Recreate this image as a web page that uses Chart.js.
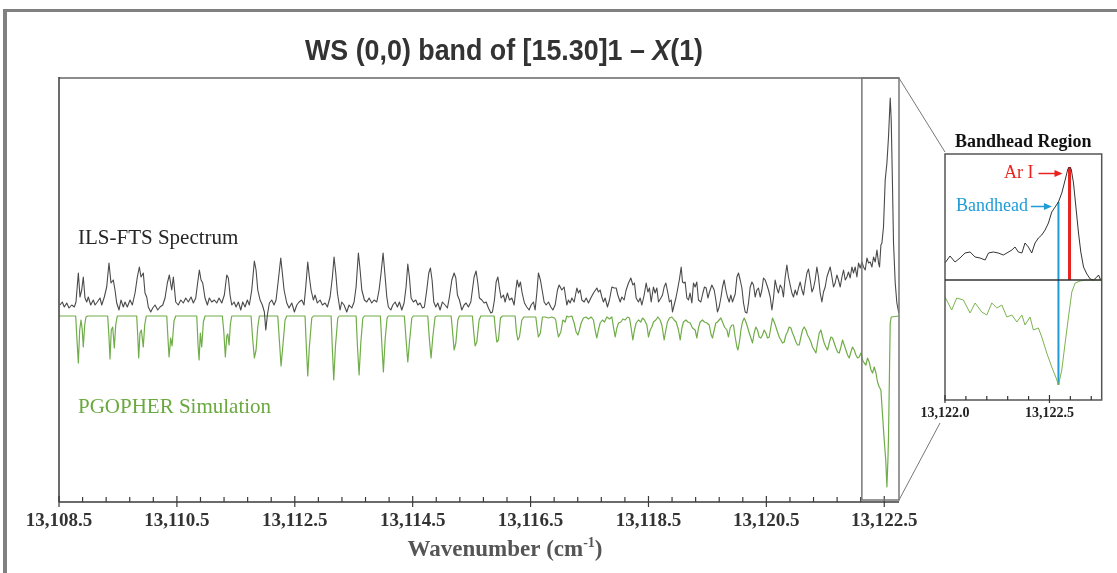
<!DOCTYPE html>
<html>
<head>
<meta charset="utf-8">
<title>WS (0,0) band</title>
<script src="https://cdn.jsdelivr.net/npm/chart.js@4/dist/chart.umd.min.js"></script>
<style>
  html, body { margin: 0; padding: 0; background: #fff; }
  #wrap { position: relative; width: 1117px; height: 573px; overflow: hidden; }
  #frame { position: absolute; left: 3px; top: 9px; width: 1130px; height: 580px;
           border-top: 3px solid #808080; border-left: 4px solid #808080; }
  #main { position: absolute; left: 0; top: 0; }
  #inset { position: absolute; left: 880px; top: 70px; }
</style>
</head>
<body>
<div id="wrap">
  <div id="frame"></div>
  <canvas id="main" width="1117" height="573"></canvas>
  <canvas id="inset" width="237" height="440"></canvas>
</div>
<script>
// ILS-FTS spectrum: wavenumber (cm-1) and intensity (arb. units)
const ftsWn = [
  13108.517, 13108.556, 13108.590, 13108.631, 13108.670, 13108.716, 13108.760, 13108.788, 13108.828, 13108.856,
  13108.885, 13108.912, 13108.941, 13108.970, 13108.997, 13109.038, 13109.082, 13109.111, 13109.150, 13109.196,
  13109.225, 13109.269, 13109.309, 13109.348, 13109.382, 13109.421, 13109.450, 13109.479, 13109.518, 13109.552,
  13109.591, 13109.620, 13109.659, 13109.705, 13109.744, 13109.790, 13109.829, 13109.863, 13109.891, 13109.930,
  13109.959, 13109.988, 13110.015, 13110.056, 13110.090, 13110.129, 13110.175, 13110.214, 13110.260, 13110.299,
  13110.338, 13110.372, 13110.412, 13110.440, 13110.480, 13110.524, 13110.565, 13110.609, 13110.650, 13110.694,
  13110.740, 13110.779, 13110.820, 13110.854, 13110.881, 13110.910, 13110.938, 13110.977, 13111.017, 13111.050,
  13111.091, 13111.135, 13111.176, 13111.215, 13111.261, 13111.305, 13111.346, 13111.373, 13111.402, 13111.431,
  13111.470, 13111.504, 13111.543, 13111.583, 13111.617, 13111.656, 13111.695, 13111.729, 13111.770, 13111.814,
  13111.843, 13111.872, 13111.911, 13111.950, 13111.984, 13112.008, 13112.035, 13112.069, 13112.109, 13112.148,
  13112.182, 13112.221, 13112.262, 13112.289, 13112.318, 13112.364, 13112.403, 13112.449, 13112.493, 13112.534,
  13112.573, 13112.618, 13112.657, 13112.686, 13112.720, 13112.747, 13112.776, 13112.815, 13112.844, 13112.883,
  13112.929, 13112.968, 13113.014, 13113.053, 13113.099, 13113.138, 13113.166, 13113.195, 13113.223, 13113.268,
  13113.297, 13113.336, 13113.382, 13113.421, 13113.467, 13113.506, 13113.540, 13113.579, 13113.608, 13113.637,
  13113.681, 13113.721, 13113.760, 13113.806, 13113.845, 13113.891, 13113.930, 13113.964, 13113.998, 13114.027,
  13114.061, 13114.088, 13114.129, 13114.163, 13114.202, 13114.241, 13114.275, 13114.315, 13114.354, 13114.388,
  13114.417, 13114.444, 13114.473, 13114.512, 13114.553, 13114.587, 13114.626, 13114.665, 13114.699, 13114.739,
  13114.773, 13114.801, 13114.829, 13114.858, 13114.892, 13114.926, 13114.965, 13115.004, 13115.050, 13115.089,
  13115.123, 13115.164, 13115.203, 13115.232, 13115.259, 13115.293, 13115.333, 13115.372, 13115.406, 13115.445,
  13115.486, 13115.513, 13115.542, 13115.576, 13115.605, 13115.632, 13115.673, 13115.712, 13115.746, 13115.785,
  13115.826, 13115.853, 13115.887, 13115.916, 13115.945, 13115.972, 13116.000, 13116.040, 13116.068, 13116.107,
  13116.141, 13116.182, 13116.221, 13116.250, 13116.272, 13116.301, 13116.328, 13116.357, 13116.396, 13116.436,
  13116.475, 13116.509, 13116.548, 13116.577, 13116.606, 13116.633, 13116.667, 13116.696, 13116.730, 13116.764,
  13116.803, 13116.844, 13116.878, 13116.917, 13116.956, 13116.985, 13117.030, 13117.069, 13117.115, 13117.142,
  13117.171, 13117.200, 13117.239, 13117.285, 13117.312, 13117.341, 13117.370, 13117.409, 13117.443, 13117.482,
  13117.522, 13117.567, 13117.624, 13117.651, 13117.680, 13117.709, 13117.736, 13117.765, 13117.804, 13117.838,
  13117.879, 13117.918, 13117.952, 13117.980, 13118.020, 13118.048, 13118.087, 13118.121, 13118.161, 13118.201,
  13118.235, 13118.262, 13118.291, 13118.330, 13118.359, 13118.388, 13118.427, 13118.461, 13118.490, 13118.517,
  13118.546, 13118.584, 13118.613, 13118.642, 13118.670, 13118.710, 13118.738, 13118.766, 13118.795, 13118.829,
  13118.856, 13118.885, 13118.907, 13118.936, 13118.965, 13118.992, 13119.026, 13119.055, 13119.077, 13119.100,
  13119.122, 13119.151, 13119.178, 13119.206, 13119.236, 13119.263, 13119.291, 13119.320, 13119.348, 13119.388,
  13119.423, 13119.450, 13119.479, 13119.508, 13119.535, 13119.575, 13119.615, 13119.643, 13119.670, 13119.699,
  13119.728, 13119.756, 13119.784, 13119.813, 13119.840, 13119.869, 13119.898, 13119.925, 13119.971, 13120.000,
  13120.027, 13120.056, 13120.085, 13120.112, 13120.141, 13120.170, 13120.197, 13120.226, 13120.255, 13120.282,
  13120.310, 13120.339, 13120.366, 13120.395, 13120.424, 13120.451, 13120.480, 13120.509, 13120.536, 13120.565,
  13120.594, 13120.621, 13120.649, 13120.678, 13120.705, 13120.734, 13120.763, 13120.790, 13120.819, 13120.848,
  13120.875, 13120.904, 13120.933, 13120.960, 13120.989, 13121.018, 13121.045, 13121.074, 13121.103, 13121.130,
  13121.159, 13121.188, 13121.215, 13121.244, 13121.273, 13121.300, 13121.328, 13121.357, 13121.384, 13121.413,
  13121.442, 13121.469, 13121.498, 13121.527, 13121.554, 13121.583, 13121.612, 13121.639, 13121.667, 13121.696,
  13121.723, 13121.753, 13121.782, 13121.809, 13121.838, 13121.866, 13121.893, 13121.922, 13121.951, 13121.978,
  13122.007, 13122.036, 13122.063, 13122.092, 13122.121, 13122.148, 13122.177, 13122.206, 13122.233, 13122.262,
  13122.291, 13122.318, 13122.347, 13122.376, 13122.403, 13122.420, 13122.443, 13122.460, 13122.487, 13122.516,
  13122.545, 13122.572, 13122.601, 13122.618, 13122.640, 13122.657, 13122.686, 13122.714, 13122.743, 13122.750,
];
const ftsInt = [
  11, 14, 9, 13, 8, 11, 9, 14, 43, 19,
  26, 39, 18, 14, 19, 11, 16, 11, 14, 18,
  11, 19, 29, 53, 33, 36, 26, 13, 6, 16,
  9, 14, 9, 16, 11, 23, 39, 49, 39, 43,
  23, 19, 9, 4, 8, 11, 6, 9, 11, 18,
  33, 41, 26, 39, 14, 11, 16, 13, 18, 14,
  19, 13, 18, 34, 46, 36, 33, 18, 11, 18,
  14, 16, 13, 18, 13, 21, 41, 38, 21, 11,
  14, 9, 14, 6, 14, 9, 16, 11, 26, 55,
  46, 26, 16, 11, 4, -14, 1, 13, 16, 11,
  16, 36, 58, 43, 26, 13, 8, 13, 4, 11,
  14, 16, 11, 29, 54, 39, 26, 16, 21, 13,
  16, 11, 13, 9, 19, 39, 59, 43, 23, 6,
  14, 11, 4, 11, 8, 14, 29, 63, 46, 26,
  16, 14, 18, 13, 16, 14, 26, 43, 63, 43,
  19, 9, 6, 11, 14, 9, 14, 6, 13, 29,
  52, 39, 18, 14, 16, 11, 13, 8, 9, 26,
  43, 48, 36, 14, 9, 13, 6, 14, 11, 8,
  19, 36, 43, 38, 21, 16, 6, 11, 13, 9,
  14, 26, 39, 45, 33, 18, 16, 13, 14, 8,
  3, 4, 16, 34, 39, 28, 18, 21, 14, 23,
  16, 18, 11, 26, 36, 29, 34, 23, 13, 9,
  6, 11, 14, 6, 23, 43, 36, 26, 14, 11,
  14, 9, 6, 11, 26, 31, 26, 29, 11, 16,
  13, 18, 14, 28, 23, 26, 16, 14, 18, 13,
  18, 23, 28, 24, 26, 19, 14, 18, 9, 16,
  29, 28, 28, 21, 14, 19, 16, 26, 33, 38,
  31, 33, 18, 14, 18, 11, 21, 33, 24, 28,
  14, 29, 23, 28, 14, 18, 21, 29, 33, 23,
  14, 16, 4, 11, 18, 26, 37, 49, 34, 33,
  34, 18, 16, 23, 13, 33, 29, 34, 16, 14,
  23, 29, 28, 18, 24, 31, 26, 16, 4, 9,
  18, 29, 36, 26, 19, 14, 21, 14, 22, 39,
  43, 36, 28, 13, 4, 3, 13, 29, 34, 31,
  19, 26, 28, 19, 26, 38, 36, 31, 26, 19,
  6, 18, 36, 28, 23, 31, 28, 19, 39, 51,
  39, 31, 23, 19, 26, 21, 28, 34, 26, 21,
  33, 43, 47, 36, 24, 28, 36, 49, 39, 23,
  14, 24, 29, 39, 44, 49, 39, 29, 33, 41,
  36, 29, 39, 46, 36, 39, 44, 38, 49, 43,
  49, 39, 53, 48, 54, 49, 46, 58, 53, 54,
  49, 59, 54, 66, 53, 49, 71, 73, 89, 136,
  153, 179, 218, 196, 129, 73, 33, 13, 4, 3,
];

// PGOPHER simulation, plotted downward
const simWn = [
  13108.500, 13108.783, 13108.805, 13108.828, 13108.851, 13108.873, 13108.895, 13108.912, 13108.936, 13108.958,
  13108.987, 13109.326, 13109.348, 13109.365, 13109.387, 13109.411, 13109.438, 13109.462, 13109.489, 13109.818,
  13109.835, 13109.852, 13109.874, 13109.897, 13109.930, 13109.954, 13109.981, 13110.328, 13110.350, 13110.367,
  13110.395, 13110.418, 13110.451, 13110.480, 13110.837, 13110.859, 13110.876, 13110.898, 13110.921, 13110.949,
  13110.977, 13111.271, 13111.295, 13111.322, 13111.346, 13111.363, 13111.385, 13111.407, 13111.431, 13111.758,
  13111.787, 13111.814, 13111.843, 13111.872, 13111.899, 13112.211, 13112.238, 13112.267, 13112.296, 13112.335,
  13112.364, 13112.674, 13112.696, 13112.720, 13112.747, 13112.788, 13112.815, 13113.116, 13113.138, 13113.161,
  13113.189, 13113.229, 13113.256, 13113.540, 13113.562, 13113.591, 13113.620, 13113.654, 13113.681, 13113.952,
  13113.976, 13114.003, 13114.032, 13114.066, 13114.088, 13114.359, 13114.388, 13114.417, 13114.444, 13114.485,
  13114.512, 13114.756, 13114.784, 13114.812, 13114.841, 13114.880, 13114.909, 13115.152, 13115.174, 13115.203,
  13115.232, 13115.266, 13115.293, 13115.513, 13115.537, 13115.559, 13115.588, 13115.627, 13115.656, 13115.882,
  13115.904, 13115.927, 13115.955, 13115.989, 13116.023, 13116.238, 13116.260, 13116.284, 13116.311, 13116.352,
  13116.386, 13116.425, 13116.589, 13116.611, 13116.633, 13116.667, 13116.701, 13116.747, 13116.803, 13116.861,
  13116.905, 13116.927, 13116.951, 13116.973, 13117.013, 13117.047, 13117.086, 13117.115, 13117.142, 13117.200,
  13117.239, 13117.273, 13117.302, 13117.329, 13117.358, 13117.397, 13117.438, 13117.482, 13117.528, 13117.567,
  13117.595, 13117.624, 13117.651, 13117.680, 13117.719, 13117.753, 13117.794, 13117.838, 13117.879, 13117.906,
  13117.935, 13117.964, 13117.991, 13118.032, 13118.065, 13118.105, 13118.144, 13118.178, 13118.206, 13118.235,
  13118.262, 13118.291, 13118.330, 13118.371, 13118.398, 13118.432, 13118.473, 13118.500, 13118.529, 13118.557,
  13118.585, 13118.625, 13118.659, 13118.698, 13118.727, 13118.766, 13118.795, 13118.822, 13118.856, 13118.897,
  13118.936, 13118.970, 13119.009, 13119.038, 13119.067, 13119.094, 13119.135, 13119.169, 13119.207, 13119.247,
  13119.292, 13119.321, 13119.348, 13119.377, 13119.416, 13119.450, 13119.491, 13119.530, 13119.564, 13119.586,
  13119.615, 13119.643, 13119.670, 13119.699, 13119.728, 13119.756, 13119.790, 13119.830, 13119.857, 13119.886,
  13119.915, 13119.942, 13119.971, 13120.000, 13120.018, 13120.048, 13120.068, 13120.095, 13120.124, 13120.153,
  13120.180, 13120.209, 13120.238, 13120.265, 13120.293, 13120.322, 13120.349, 13120.378, 13120.407, 13120.434,
  13120.463, 13120.492, 13120.519, 13120.548, 13120.577, 13120.604, 13120.633, 13120.662, 13120.689, 13120.718,
  13120.747, 13120.774, 13120.803, 13120.831, 13120.858, 13120.887, 13120.916, 13120.943, 13120.972, 13121.001,
  13121.028, 13121.057, 13121.086, 13121.113, 13121.142, 13121.171, 13121.198, 13121.227, 13121.256, 13121.283,
  13121.312, 13121.341, 13121.368, 13121.397, 13121.425, 13121.453, 13121.481, 13121.510, 13121.537, 13121.566,
  13121.595, 13121.622, 13121.651, 13121.680, 13121.707, 13121.736, 13121.765, 13121.792, 13121.820, 13121.849,
  13121.877, 13121.905, 13121.934, 13121.962, 13121.991, 13122.019, 13122.047, 13122.075, 13122.104, 13122.131,
  13122.160, 13122.189, 13122.216, 13122.245, 13122.274, 13122.301, 13122.330, 13122.359, 13122.386, 13122.415,
  13122.443, 13122.465, 13122.499, 13122.525, 13122.545, 13122.562, 13122.572, 13122.589, 13122.601, 13122.618,
  13122.750,
];
const simInt = [
  0, 0, -24, -47, -14, -4, -14, -31, -9, -1,
  0, 0, -21, -43, -14, -11, -32, -9, 0, 0,
  -19, -42, -17, -14, -31, -9, 0, 0, -24, -41,
  -22, -30, -5, 0, 0, -29, -44, -17, -31, -6,
  0, 0, -15, -41, -20, -18, -29, -8, 0, 0,
  -24, -42, -34, -11, 0, 0, -24, -50, -31, -4,
  0, 0, -31, -60, -31, -2, 0, 0, -34, -64,
  -31, -2, 0, 0, -29, -59, -27, -2, 0, 0,
  -27, -56, -24, -2, 0, 0, -24, -46, -27, -2,
  0, 0, -24, -42, -21, -1, 0, 0, -14, -34,
  -27, -4, 0, 0, -17, -30, -26, -4, 0, 0,
  -14, -26, -24, -2, 0, 0, -16, -24, -21, -4,
  -1, -1, -1, -12, -21, -17, -1, -1, -2, -1,
  -2, -4, -14, -21, -16, -4, -6, 0, -1, 0,
  -7, -16, -19, -14, -7, -2, -1, -3, -1, -4,
  -14, -22, -14, -7, -4, -6, -1, -3, -1, -11,
  -21, -12, -7, -6, -3, -4, -1, -2, -12, -24,
  -14, -7, -4, -6, -2, -4, -9, -21, -14, -11,
  -6, -4, -1, -4, -9, -24, -14, -6, -2, -1,
  -4, -6, -14, -24, -12, -6, -4, -6, -7, -12,
  -14, -22, -12, -6, -4, -6, -7, -9, -19, -22,
  -14, -7, -6, -4, -2, -6, -11, -14, -21, -12,
  -9, -9, -21, -31, -34, -24, -14, -6, -2, -6,
  -11, -17, -22, -27, -17, -11, -14, -21, -22, -19,
  -14, -17, -22, -21, -11, -2, -6, -11, -16, -21,
  -24, -27, -26, -19, -16, -11, -12, -17, -21, -26,
  -29, -29, -21, -14, -11, -14, -19, -22, -26, -31,
  -34, -37, -27, -17, -14, -21, -27, -31, -34, -27,
  -21, -22, -27, -32, -36, -37, -31, -24, -29, -34,
  -39, -42, -36, -31, -34, -39, -42, -41, -37, -44,
  -47, -49, -42, -46, -54, -57, -51, -57, -66, -71,
  -74, -94, -124, -144, -171, -144, -121, -54, -7, -1,
  0,
];

// bandhead region, higher resolution
const insetFtsWn = [
  13122.000, 13122.024, 13122.048, 13122.072, 13122.096, 13122.120, 13122.144, 13122.168, 13122.192, 13122.208,
  13122.231, 13122.255, 13122.279, 13122.296, 13122.320, 13122.335, 13122.351, 13122.368, 13122.383, 13122.399,
  13122.415, 13122.431, 13122.447, 13122.463, 13122.479, 13122.495, 13122.511, 13122.527, 13122.543, 13122.559,
  13122.575, 13122.588, 13122.596, 13122.604, 13122.615, 13122.628, 13122.639, 13122.650, 13122.663, 13122.679,
  13122.695, 13122.711, 13122.727, 13122.735, 13122.743, 13122.751,
];
const insetFtsInt = [
  17, 24, 18, 22, 27, 28, 23, 22, 20, 27,
  28, 27, 25, 27, 30, 33, 28, 27, 37, 33,
  27, 37, 42, 45, 50, 57, 68, 73, 78, 87,
  100, 111, 113, 111, 97, 70, 47, 28, 13, 6,
  1, 0, 3, 5, 1, 0,
];
const insetSimWn = [
  13122.000, 13122.032, 13122.056, 13122.088, 13122.120, 13122.144, 13122.176, 13122.200, 13122.224, 13122.248,
  13122.272, 13122.296, 13122.320, 13122.344, 13122.368, 13122.383, 13122.407, 13122.423, 13122.447, 13122.463,
  13122.487, 13122.511, 13122.532, 13122.543, 13122.559, 13122.575, 13122.591, 13122.607, 13122.623, 13122.647,
  13122.671, 13122.751,
];
const insetSimInt = [
  -17, -30, -18, -20, -33, -23, -32, -35, -23, -28,
  -25, -37, -35, -42, -35, -45, -37, -50, -48, -57,
  -73, -87, -98, -105, -90, -63, -37, -12, -3, -1,
  0, 0,
];

// marker lines: [wavenumber, from, to]
const bandheadMark = [13122.543, -105, 78];
const arIMark = [13122.596, 0, 113];

const mainTicks = [13108.5, 13110.5, 13112.5, 13114.5, 13116.5, 13118.5, 13120.5, 13122.5];
const insetTicks = [13122.0, 13122.5];
const zoomRange = [13122.12, 13122.75];

const SERIF = '"Liberation Serif", "Times New Roman", serif';
const SANS = '"Liberation Sans Narrow", "Liberation Sans", Arial, sans-serif';

const zip = (xs, ys) => xs.map((x, i) => ({ x, y: ys[i] }));
const fmt = (v) => v.toLocaleString('en-US', { minimumFractionDigits: 1, maximumFractionDigits: 1 });

function line(ctx, x1, y1, x2, y2) {
  ctx.beginPath();
  ctx.moveTo(x1, y1);
  ctx.lineTo(x2, y2);
  ctx.stroke();
}

function arrow(ctx, x1, x2, y, color) {
  ctx.strokeStyle = color;
  ctx.fillStyle = color;
  ctx.lineWidth = 1.5;
  line(ctx, x1, y, x2 - 6, y);
  ctx.beginPath();
  ctx.moveTo(x2, y);
  ctx.lineTo(x2 - 8, y - 3.5);
  ctx.lineTo(x2 - 8, y + 3.5);
  ctx.closePath();
  ctx.fill();
}

// text runs drawn side by side, squeezed to a target width
function drawRuns(ctx, runs, cx, baseline, width) {
  let total = 0;
  runs.forEach((r) => { ctx.font = r.font; r.w = ctx.measureText(r.text).width; total += r.w; });
  const k = width ? width / total : 1;
  ctx.save();
  ctx.translate(cx - (total * k) / 2, baseline);
  ctx.scale(k, 1);
  let x = 0;
  runs.forEach((r) => {
    ctx.font = r.font;
    ctx.fillText(r.text, x, r.dy || 0);
    x += r.w;
  });
  ctx.restore();
}

const mainDecor = {
  id: 'mainDecor',
  afterDraw(chart) {
    const { ctx, chartArea: a, scales: { x } } = chart;
    ctx.save();

    // plot frame
    ctx.strokeStyle = '#8c8c8c';
    ctx.lineWidth = 2;
    line(ctx, a.left, a.top, a.right, a.top);
    ctx.strokeStyle = '#3a3a3a';
    ctx.lineWidth = 1.5;
    line(ctx, a.left, a.top - 1, a.left, a.bottom);
    line(ctx, a.left, a.bottom, a.right, a.bottom);

    // major and minor ticks, pointing inward
    ctx.lineWidth = 1.2;
    mainTicks.forEach((v, i) => {
      const px = x.getPixelForValue(v);
      line(ctx, px, a.bottom - 6, px, a.bottom + 5);
      if (i < mainTicks.length - 1) {
        for (let k = 1; k < 5; k++) {
          const mx = x.getPixelForValue(v + k * 0.4);
          line(ctx, mx, a.bottom - 5, mx, a.bottom);
        }
      }
    });

    // box around the bandhead region
    const zx = x.getPixelForValue(zoomRange[0]);
    const zr = x.getPixelForValue(zoomRange[1]);
    ctx.strokeStyle = '#777';
    ctx.lineWidth = 1.5;
    ctx.strokeRect(zx, a.top, zr - zx, a.bottom - 2 - a.top);

    // chart title
    ctx.fillStyle = '#333';
    ctx.textBaseline = 'alphabetic';
    drawRuns(ctx, [
      { text: 'WS (0,0) band of [15.30]1 \u2013 ', font: 'bold 29px ' + SANS },
      { text: 'X', font: 'italic bold 29px ' + SANS },
      { text: '(1)', font: 'bold 29px ' + SANS },
    ], 504, 60, 398);

    // axis title with superscript
    ctx.fillStyle = '#555';
    drawRuns(ctx, [
      { text: 'Wavenumber (cm', font: 'bold 23px ' + SERIF },
      { text: '-1', font: 'bold 14px ' + SERIF, dy: -9 },
      { text: ')', font: 'bold 23px ' + SERIF },
    ], 505, 556);

    // trace labels
    ctx.textBaseline = 'middle';
    ctx.textAlign = 'left';
    ctx.font = '21px ' + SERIF;
    ctx.fillStyle = '#262626';
    ctx.fillText('ILS-FTS Spectrum', a.left + 19, 238);
    ctx.fillStyle = '#6aa840';
    ctx.fillText('PGOPHER Simulation', a.left + 19, 407);
    ctx.restore();
  },
};

const mainChart = new Chart(document.getElementById('main'), {
  type: 'line',
  data: {
    datasets: [
      { label: 'ILS-FTS Spectrum', data: zip(ftsWn, ftsInt), borderColor: '#4a4a4a',
        borderWidth: 1.1, pointRadius: 0, borderJoinStyle: 'round' },
      { label: 'PGOPHER Simulation', data: zip(simWn, simInt), borderColor: '#70ad48',
        borderWidth: 1.2, pointRadius: 0, borderJoinStyle: 'round' },
    ],
  },
  options: {
    responsive: false,
    animation: false,
    events: [],
    layout: { padding: { left: 59, right: 218, top: 78, bottom: 0 } },
    plugins: { legend: { display: false }, tooltip: { enabled: false } },
    scales: {
      x: {
        type: 'linear',
        min: 13108.5,
        max: 13122.75,
        afterBuildTicks: (s) => { s.ticks = mainTicks.map((v) => ({ value: v })); },
        afterFit: (s) => { s.height = 71; },
        grid: { display: false, drawTicks: false },
        border: { display: false },
        ticks: {
          autoSkip: false, maxRotation: 0, padding: 8, color: '#333',
          font: { family: SERIF, size: 19, weight: 'bold' },
          callback: fmt,
        },
      },
      y: { display: false, min: -186, max: 238 },
    },
  },
  plugins: [mainDecor],
});

const INSET_LEFT = 880;
const INSET_TOP = 70;

const insetDecor = {
  id: 'insetDecor',
  afterDraw(chart) {
    const { ctx, chartArea: a, scales: { x, y } } = chart;
    ctx.save();

    // frame and zero line
    ctx.strokeStyle = '#555';
    ctx.lineWidth = 1.5;
    ctx.strokeRect(a.left, a.top, a.right - a.left, a.bottom - a.top);
    ctx.strokeStyle = '#333';
    const y0 = y.getPixelForValue(0);
    line(ctx, a.left, y0, a.right, y0);

    // ticks every 0.1 cm-1
    ctx.lineWidth = 1.2;
    for (let i = 0; i < 8; i++) {
      const v = 13122 + i * 0.1;
      const px = x.getPixelForValue(v);
      if (i % 5 === 0) line(ctx, px, a.bottom - 5, px, a.bottom + 3);
      else line(ctx, px, a.bottom - 4, px, a.bottom);
    }

    // title
    ctx.fillStyle = '#111';
    ctx.textAlign = 'center';
    ctx.textBaseline = 'middle';
    ctx.font = 'bold 18px ' + SERIF;
    ctx.fillText('Bandhead Region', (a.left + a.right) / 2, a.top - 12);

    // annotations
    ctx.font = '18px ' + SERIF;
    ctx.textAlign = 'right';
    const arX = x.getPixelForValue(arIMark[0]) - 7;
    const arY = y.getPixelForValue(arIMark[2]) + 6.5;
    arrow(ctx, arX - 24, arX, arY, '#e8231f');
    ctx.fillStyle = '#e8231f';
    ctx.fillText('Ar I', arX - 29, arY);

    const bhX = x.getPixelForValue(bandheadMark[0]) - 6.5;
    const bhY = y.getPixelForValue(bandheadMark[2]) + 4.5;
    arrow(ctx, bhX - 21, bhX, bhY, '#1f9bd7');
    ctx.fillStyle = '#1f9bd7';
    ctx.fillText('Bandhead', bhX - 24, bhY);

    // connectors back to the boxed region of the main plot
    const m = mainChart.chartArea;
    ctx.strokeStyle = '#777';
    ctx.lineWidth = 1;
    line(ctx, m.right - INSET_LEFT, m.top - INSET_TOP, a.left, a.top - 2);
    line(ctx, m.right - INSET_LEFT, m.bottom - 2 - INSET_TOP, a.left - 5, a.bottom + 23);
    ctx.restore();
  },
};

new Chart(document.getElementById('inset'), {
  type: 'line',
  data: {
    datasets: [
      { data: zip(insetFtsWn, insetFtsInt), borderColor: '#333', borderWidth: 1, pointRadius: 0 },
      { data: zip(insetSimWn, insetSimInt), borderColor: '#7cb350', borderWidth: 1, pointRadius: 0 },
      { data: [{ x: bandheadMark[0], y: bandheadMark[1] }, { x: bandheadMark[0], y: bandheadMark[2] }],
        borderColor: '#1f9bd7', borderWidth: 2, pointRadius: 0 },
      { data: [{ x: arIMark[0], y: arIMark[1] }, { x: arIMark[0], y: arIMark[2] }],
        borderColor: '#e8231f', borderWidth: 3, pointRadius: 0 },
    ],
  },
  options: {
    responsive: false,
    animation: false,
    events: [],
    layout: { padding: { left: 65, right: 15.3, top: 84, bottom: 0 } },
    plugins: { legend: { display: false }, tooltip: { enabled: false } },
    scales: {
      x: {
        type: 'linear',
        min: 13122.0,
        max: 13122.75,
        afterBuildTicks: (s) => { s.ticks = insetTicks.map((v) => ({ value: v })); },
        afterFit: (s) => { s.height = 110; },
        grid: { display: false, drawTicks: false },
        border: { display: false },
        ticks: {
          autoSkip: false, maxRotation: 0, padding: 5, color: '#222',
          font: { family: SERIF, size: 14, weight: 'bold' },
          callback: fmt,
        },
      },
      y: { display: false, min: -120, max: 126 },
    },
  },
  plugins: [insetDecor],
});
</script>
</body>
</html>
